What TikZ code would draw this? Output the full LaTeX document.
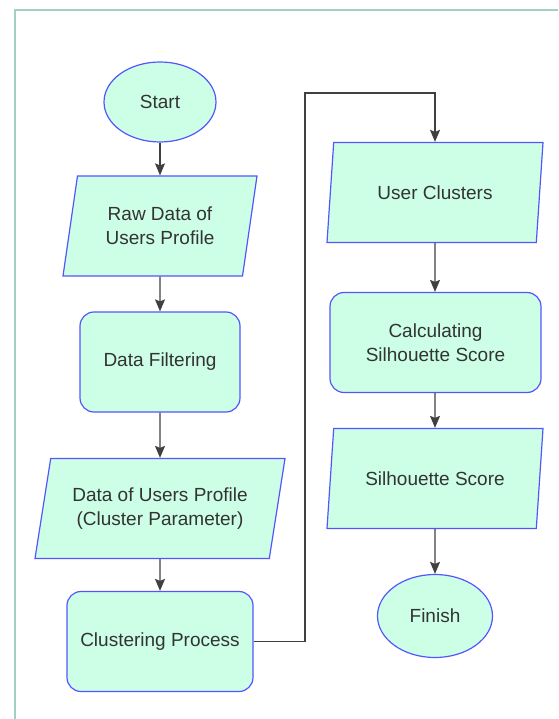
\documentclass[tikz,border=0pt]{standalone}
\usepackage{fontspec}
\setmainfont{Liberation Sans}
\usetikzlibrary{shapes.geometric,arrows.meta}
\definecolor{mint}{RGB}{204,255,230}
\definecolor{edgeblue}{RGB}{85,85,255}
\definecolor{linegray}{RGB}{64,64,64}
\definecolor{textgray}{RGB}{51,51,51}
\definecolor{framegreen}{RGB}{160,208,198}
\begin{document}
\begin{tikzpicture}[x=1pt, y=-1pt,
        every node/.style={font=\fontsize{19}{24}\selectfont, text=textgray, align=center},
        terminal/.style={ellipse, draw=edgeblue, fill=mint, line width=1.2pt, minimum width=112pt, minimum height=80pt},
        process/.style={rectangle, rounded corners=14pt, draw=edgeblue, fill=mint, line width=1.2pt, minimum height=100pt},
        data/.style={trapezium, trapezium left angle=72, trapezium right angle=108, trapezium stretches body,
                     draw=edgeblue, fill=mint, line width=1.2pt, minimum height=100pt, inner xsep=0pt},
        arrow/.style={-{Stealth[length=12pt, width=10pt, inset=2pt]}, draw=linegray, line width=1.3pt}
    ]
        \useasboundingbox (0,0) rectangle (558,719);
        % Frame
        \draw[framegreen, line width=2pt] (15,719) -- (15,10) -- (558,10);

        % Left column
        \node[terminal] (start) at (160,102) {Start};
        \node[data, minimum width=194pt] (raw) at (160,226) {Raw Data of\\Users Profile};
        \node[process, minimum width=160pt] (filter) at (160,362) {Data Filtering};
        \node[data, minimum width=250pt] (profile) at (160,508.5) {Data of Users Profile\\(Cluster Parameter)};
        \node[process, minimum width=186pt] (clustering) at (160,641.5) {Clustering Process};

        % Right column
        \node[data, minimum width=216pt] (clusters) at (435,192.5) {User Clusters};
        \node[process, minimum width=211pt] (calc) at (435.5,342.5) {Calculating\\Silhouette Score};
        \node[data, minimum width=216pt] (score) at (435,478.5) {Silhouette Score};
        \node[terminal, minimum width=115pt, minimum height=83pt] (finish) at (435,616) {Finish};

        \draw[arrow] (start) -- (raw);
        \draw[arrow] (raw) -- (filter);
        \draw[arrow] (filter) -- (profile);
        \draw[arrow] (profile) -- (clustering);

        \coordinate (bend) at (305,93);
        \draw[arrow] (clustering.east) -| (bend) -| (clusters.north);

        \draw[arrow] (clusters) -- (calc.north -| clusters);
        \draw[arrow] (calc.south -| clusters) -- (score);
        \draw[arrow] (score) -- (finish);
    \end{tikzpicture}
\end{document}
